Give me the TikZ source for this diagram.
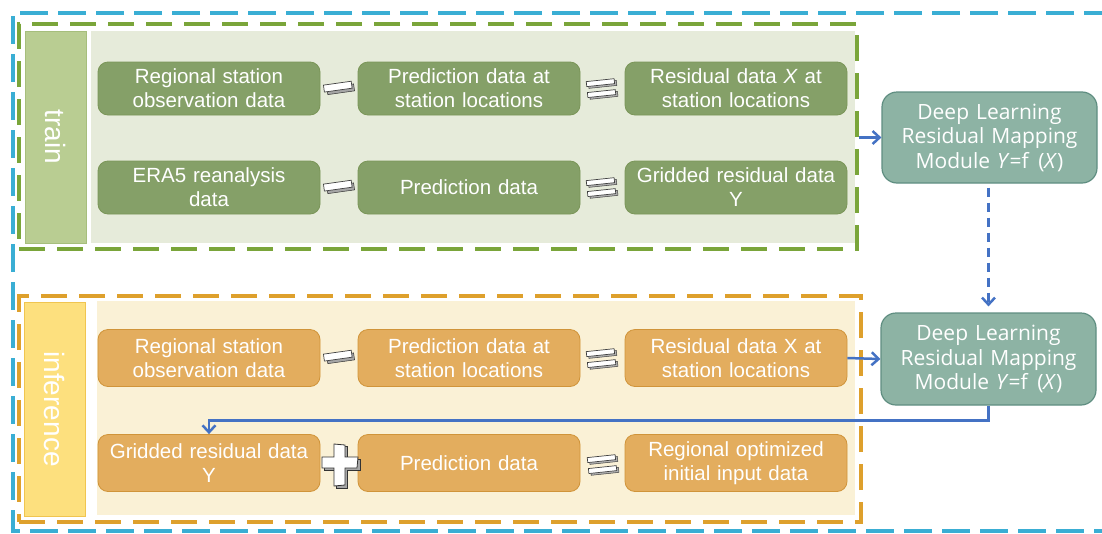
\documentclass[tikz,border=0pt]{standalone}
\usepackage{fontspec}
\setmainfont{Liberation Sans}
\newfontfamily\dlfont{Open Sans}
\usetikzlibrary{arrows.meta}
\definecolor{gfill}{HTML}{85A068}
\definecolor{gdraw}{HTML}{7A9558}
\definecolor{gbg}{HTML}{E6EBDA}
\definecolor{gbar}{HTML}{B9CD92}
\definecolor{gbardraw}{HTML}{A6BE7C}
\definecolor{gdash}{HTML}{7AA53A}
\definecolor{ofill}{HTML}{E3AD5E}
\definecolor{odraw}{HTML}{D0943A}
\definecolor{obg}{HTML}{FAF1D6}
\definecolor{obar}{HTML}{FDE07E}
\definecolor{obardraw}{HTML}{F0C550}
\definecolor{odash}{HTML}{DEA02C}
\definecolor{bdash}{HTML}{3AAED4}
\definecolor{dlfill}{HTML}{8DB3A4}
\definecolor{dldraw}{HTML}{5F8E81}
\definecolor{arrblue}{HTML}{4472C4}
\newcommand\opminus[1]{%
  \begin{scope}[shift={(#1)},rotate=8]
    \filldraw[fill=gray!70,draw=gray!40!black,line width=0.5pt] (-12,-2) rectangle (15,5);
    \filldraw[fill=white,draw=gray!50!black,line width=0.7pt] (-15,-5) rectangle (13,2);
  \end{scope}}
\newcommand\opequals[1]{%
  \begin{scope}[shift={(#1)},rotate=6]
    \foreach \dy in {-5,6}{
      \filldraw[fill=gray!60,draw=gray!50!black,line width=0.5pt] (-13,\dy-1) rectangle (15,\dy+4);
      \filldraw[fill=white,draw=gray!50!black,line width=0.7pt] (-15,\dy-3) rectangle (13,\dy+2);}
  \end{scope}}
\newcommand\opplus[1]{%
  \begin{scope}[shift={(#1)}]
    \filldraw[fill=gray!70,draw=gray!40!black,line width=0.5pt]
      (-4,-19)--(7,-19)--(7,-6)--(20,-6)--(20,5)--(7,5)--(7,23)--(-4,23)--(-4,5)--(-16,5)--(-16,-6)--(-4,-6)--cycle;
    \filldraw[fill=white,draw=gray!40!black,line width=0.8pt]
      (-6,-21)--(5,-20)--(5,-8)--(18,-8)--(17,3)--(5,3)--(5,20)--(-6,21)--(-6,3)--(-18,3)--(-18,-8)--(-6,-8)--cycle;
  \end{scope}}
\begin{document}
\begin{tikzpicture}[x=1pt,y=-1pt,
  box/.style={rounded corners=10pt, minimum width=222pt, text width=215pt, align=center,
    font=\fontsize{20.5}{24}\selectfont, text=white, line width=0.8pt, inner sep=0pt},
  gbox/.style={box, fill=gfill, draw=gdraw, minimum height=53pt},
  obox/.style={box, fill=ofill, draw=odraw, minimum height=57pt},
  dlbox/.style={rounded corners=15pt, fill=dlfill, draw=dldraw, line width=1.2pt,
    minimum width=215pt, minimum height=91pt, text width=212pt, align=center, inner sep=0pt,
    font=\dlfont\fontsize{21}{24.5}\selectfont, text=white},
  frame/.style={line width=3.6pt, dash pattern=on 26pt off 12pt, inner sep=0pt},
  bar/.style={line width=1pt, inner sep=0pt, minimum width=61pt},
  barlbl/.style={text=white, font=\fontsize{28}{30}\selectfont, rotate=-90},
  arr/.style={-{Straight Barb[length=7pt,width=13pt,line width=2.5pt]}, draw=arrblue, line width=2.5pt}
]
\useasboundingbox (0,0) rectangle (1102,533);
% outer blue frame
\draw[bdash, line width=3.2pt, dash pattern=on 28pt off 10pt] (1112,13) -- (13,13) -- (13,531) -- (1112,531);
% train section
\fill[gbg] (91,31) rectangle (855,243);
\node[frame, draw=gdash, minimum width=838pt, minimum height=225pt] (trainframe) at (438,136.5) {};
\node[bar, fill=gbar, draw=gbardraw, minimum height=212pt] (trainbar) at (55.5,137) {};
\node[barlbl] (trainlbl) at (55.5,137) {train};
% inference section
\fill[obg] (97,301) rectangle (855,515);
\node[frame, draw=odash, minimum width=842pt, minimum height=226pt] (infframe) at (440,409) {};
\node[bar, fill=obar, draw=obardraw, minimum height=214pt] (infbar) at (54.5,409) {};
\node[barlbl] (inflbl) at (54.5,409) {inference};
% train boxes
\node[gbox] (t11) at (209,88.5) {Regional station\\observation data};
\node[gbox] (t12) at (469,88.5) {Prediction data at\\station locations};
\node[gbox] (t13) at (736,88.5) {Residual data \textit{X} at\\station locations};
\node[gbox] (t21) at (209,187.5) {ERA5 reanalysis\\data};
\node[gbox] (t22) at (469,187.5) {Prediction data};
\node[gbox] (t23) at (736,187.5) {Gridded residual data\\Y};
% inference boxes
\node[obox] (i11) at (209,358) {Regional station\\observation data};
\node[obox] (i12) at (469,358) {Prediction data at\\station locations};
\node[obox] (i13) at (736,358) {Residual data X at\\station locations};
\node[obox] (i21) at (209,463) {Gridded residual data\\Y};
\node[obox] (i22) at (469,463) {Prediction data};
\node[obox] (i23) at (736,463) {Regional optimized\\initial input data};
% operators
\opminus{339,88}
\opequals{602,88}
\opminus{339,187}
\opequals{602,187}
\opminus{339,357}
\opequals{602,358}
\opplus{340,465}
\opequals{603,464}
% deep learning modules
\node[dlbox] (dl1) at (989.5,137.5) {Deep Learning\\Residual Mapping\\Module~\textit{Y}=f\hspace{0.45em}(\textit{X})};
\node[dlbox, minimum height=92pt] (dl2) at (988.5,359) {Deep Learning\\Residual Mapping\\Module~\textit{Y}=f\hspace{0.45em}(\textit{X})};
% connectors
\draw[arr] (trainframe.east |- dl1.west) -- (dl1.west);
\draw[arr, dash pattern=on 9pt off 6pt, shorten <=4pt, shorten >=6pt] (dl1.south -| dl2.south) -- (dl2.north);
\draw[arr] (i13.east) -- (dl2.west);
\draw[arr] (dl2.south) -- ++(0,15) -| (i21.north);
\end{tikzpicture}
\end{document}
